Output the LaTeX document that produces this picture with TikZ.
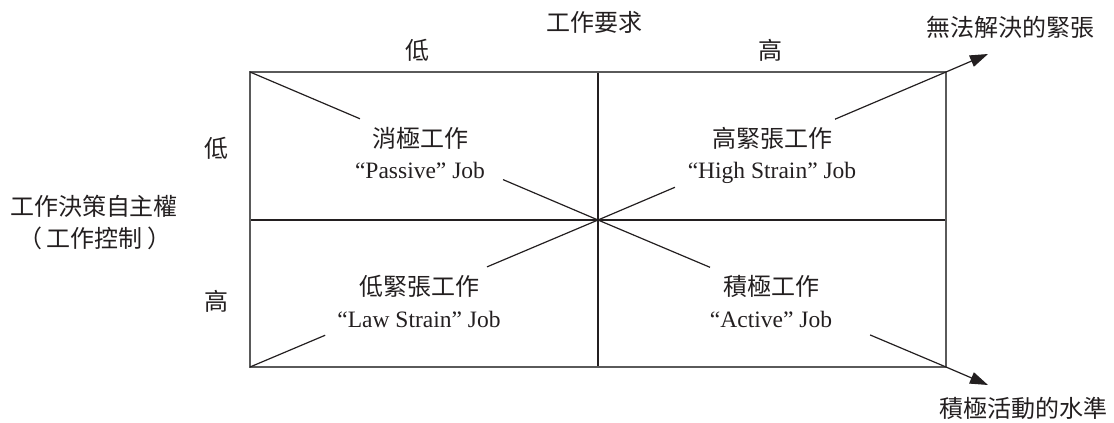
\documentclass[tikz,border=0pt]{standalone}
\usepackage{fontspec}
\setmainfont{Liberation Serif}
\newfontfamily\cjk{Noto Sans CJK TC}
\usetikzlibrary{arrows.meta,calc}
\definecolor{ink}{HTML}{231F20}
\definecolor{framec}{HTML}{5A5A5A}
\begin{document}
\begin{tikzpicture}[x=1pt,y=-1pt,
  zh/.style={font=\cjk\fontsize{24}{28}\selectfont, text=ink, inner sep=0pt, anchor=base},
  en/.style={font=\fontsize{23.5}{28}\selectfont, text=ink, inner sep=0pt, anchor=base},
  gridline/.style={draw=ink, line width=1.2pt},
  framebox/.style={draw=framec, line width=1.8pt},
  diag/.style={draw=ink, line width=1.2pt},
  arr/.style={diag, -{Triangle[length=18pt,width=12pt]}}]
\useasboundingbox (0,0) rectangle (1114,423);
% frame coordinates
\coordinate (TL) at (250,72);
\coordinate (TR) at (946,72);
\coordinate (BL) at (250,367);
\coordinate (BR) at (946,367);
\coordinate (C) at (598,220);
\coordinate (T) at (598,72);
\coordinate (B) at (598,367);
\coordinate (L) at (250,220);
\coordinate (R) at (946,220);
\coordinate (TIP1) at (988,54);
\coordinate (TIP2) at (988,385);
% grid
\draw[gridline] (T) -- (B);
\draw[gridline] (L) -- (R);
\draw[framebox] (TL) rectangle (BR);
% diagonals
\draw[diag] (TL) -- ($(TL)!0.316!(C)$);
\draw[diag] ($(TL)!0.727!(C)$) -- (C);
\draw[diag] (BL) -- ($(BL)!0.216!(C)$);
\draw[diag] ($(BL)!0.681!(C)$) -- (C);
\draw[diag] (C) -- ($(C)!0.221!(TR)$);
\draw[arr] ($(C)!0.681!(TR)$) -- (TR) -- (TIP1);
\draw[diag] (C) -- ($(C)!0.322!(BR)$);
\draw[arr] ($(C)!0.782!(BR)$) -- (BR) -- (TIP2);
% axis labels
\node[zh] (demand) at (594,31) {工作要求};
\node[zh] (lowD) at (417,59) {低};
\node[zh] (highD) at (770,59) {高};
\node[zh] (tension) at (1010,36) {無法解決的緊張};
\node[zh] (activity) at (1023,417) {積極活動的水準};
\node[zh] (lowC) at (216,157) {低};
\node[zh] (highC) at (216,310) {高};
\node[zh] (dec) at (94,215) {工作決策自主權};
\node[zh] (ctl) at (95,247) {（\hspace{5pt}工作控制\hspace{5pt}）};
% cells
\node[zh] (passzh) at (420,147) {消極工作};
\node[en] (passen) at (420,178) {“Passive” Job};
\node[zh] (highzh) at (772,147) {高緊張工作};
\node[en] (highen) at (772,178) {“High Strain” Job};
\node[zh] (lawzh) at (419,295) {低緊張工作};
\node[en] (lawen) at (419,327) {“Law Strain” Job};
\node[zh] (actzh) at (771,295) {積極工作};
\node[en] (acten) at (771,327) {“Active” Job};
\end{tikzpicture}
\end{document}
